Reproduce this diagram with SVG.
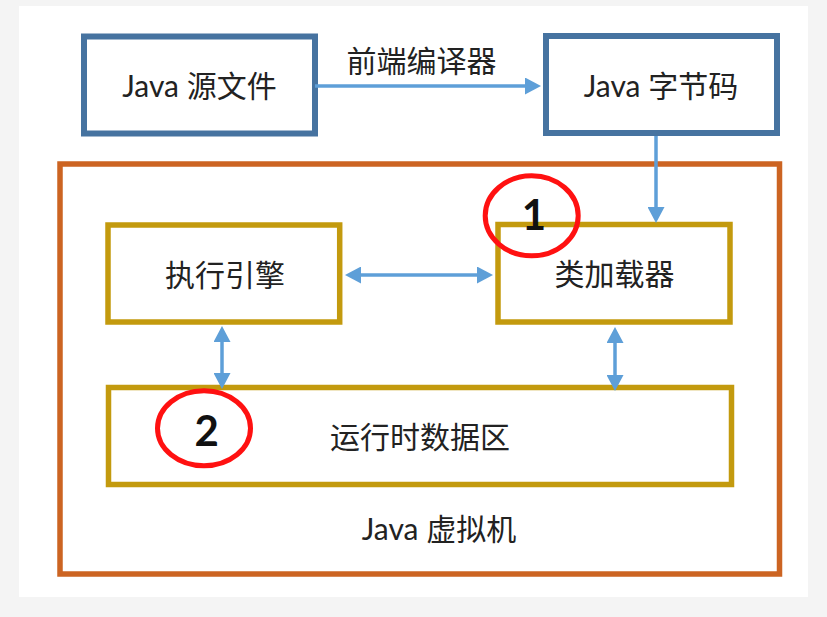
<svg xmlns="http://www.w3.org/2000/svg" width="827" height="617" viewBox="0 0 827 617">
  <style>
    .t { font-family: Lato, "Noto Sans CJK SC", sans-serif; font-size: 30px; fill: #222; text-anchor: middle; }
    .num { font-family: Lato, "Liberation Sans", sans-serif; font-size: 42px; font-weight: bold; fill: #111; text-anchor: middle; }
    .blue { fill: #fff; stroke: #4673a0; stroke-width: 6; }
    .gold { fill: #fff; stroke: #c39a0e; stroke-width: 5.5; }
    .orange { fill: #fff; stroke: #cc6422; stroke-width: 5.5; }
    .conn { stroke: #5e9fd8; stroke-width: 3.5; fill: none; }
    .mark { fill: none; stroke: #ff1111; stroke-width: 5; }
  </style>
  <defs>
    <marker id="ah" markerUnits="userSpaceOnUse" markerWidth="16" markerHeight="17" refX="0" refY="8.5" orient="auto-start-reverse" viewBox="0 0 16 17">
      <path d="M0,0 L16,8.5 L0,17 z" fill="#5e9fd8"/>
    </marker>
  </defs>
  <rect x="0" y="0" width="827" height="617" fill="#f4f4f4"/>
  <rect x="19" y="6" width="789" height="591" fill="#ffffff"/>

  <g id="jvm">
    <rect class="orange" x="60" y="164" width="719.5" height="410"/>
    <text class="t" x="439" y="540">Java 虚拟机</text>
  </g>
  <g id="source">
    <rect class="blue" x="84" y="36.5" width="231" height="97"/>
    <text class="t" x="199.5" y="97">Java 源文件</text>
  </g>
  <g id="bytecode">
    <rect class="blue" x="546" y="36" width="231" height="97"/>
    <text class="t" x="661" y="97">Java 字节码</text>
  </g>
  <g id="engine">
    <rect class="gold" x="108" y="225" width="231.7" height="97"/>
    <text class="t" x="225" y="286">执行引擎</text>
  </g>
  <g id="loader">
    <rect class="gold" x="498" y="224.5" width="232" height="97.5"/>
    <text class="t" x="614.5" y="285">类加载器</text>
  </g>
  <g id="runtime">
    <rect class="gold" x="108.5" y="387.5" width="623" height="97"/>
    <text class="t" x="420" y="447.5">运行时数据区</text>
  </g>

  <g id="connectors">
    <line class="conn" x1="315" y1="86" x2="525" y2="86" marker-end="url(#ah)"/>
    <text class="t" x="421.5" y="72">前端编译器</text>
    <line class="conn" x1="656" y1="136" x2="656" y2="207" marker-end="url(#ah)"/>
    <line class="conn" x1="361" y1="275" x2="477" y2="275" marker-start="url(#ah)" marker-end="url(#ah)"/>
    <line class="conn" x1="222" y1="342" x2="222" y2="373" marker-start="url(#ah)" marker-end="url(#ah)"/>
    <line class="conn" x1="615" y1="343" x2="615" y2="375" marker-start="url(#ah)" marker-end="url(#ah)"/>
  </g>

  <g id="mark1">
    <ellipse class="mark" cx="531.7" cy="215.8" rx="46.5" ry="40"/>
    <text class="num" x="534" y="230">1</text>
  </g>
  <g id="mark2">
    <ellipse class="mark" cx="204" cy="428.3" rx="46.5" ry="37.5"/>
    <text class="num" x="206.7" y="446">2</text>
  </g>
</svg>
